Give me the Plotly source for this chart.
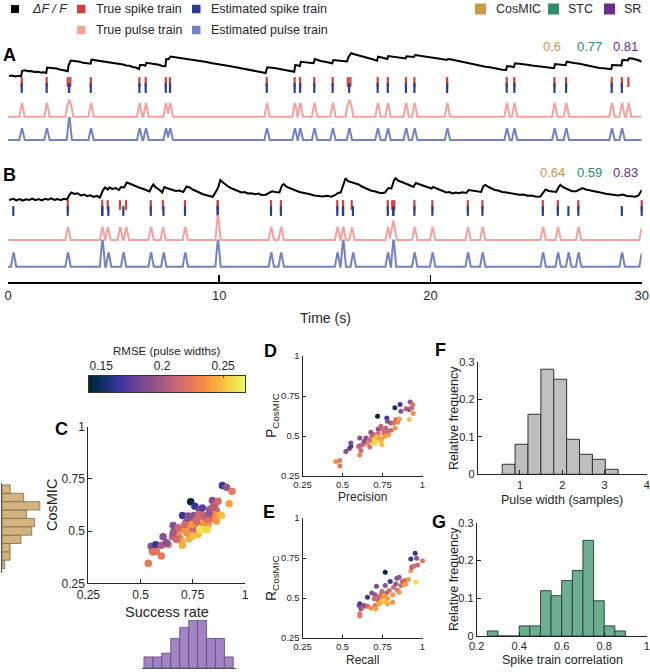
import numpy as np
import plotly.graph_objects as go
import plotly.express as px

# ---------------- DATA ----------------
# Panel A: dF/F trace (time s, value)
trace_A = [(0.05,0.16),(0.2,0.18),(0.35,0.14),(0.5,0.17),(0.62,0.15),
(0.67,0.37),(0.8,0.39),(0.95,0.35),(1.1,0.36),(1.25,0.32),(1.4,0.33),(1.55,0.3),(1.7,0.31),(1.81,0.28),
(1.85,0.5),(2.0,0.49),(2.15,0.46),(2.3,0.46),(2.45,0.42),(2.6,0.41),(2.75,0.37),(2.83,0.35),
(2.87,0.6),(2.97,0.78),(3.1,0.77),(3.25,0.74),(3.4,0.73),(3.55,0.69),(3.7,0.68),(3.85,0.64),(3.91,0.65),
(3.95,0.81),(4.1,0.79),(4.25,0.8),(4.4,0.76),(4.55,0.75),(4.7,0.72),(4.85,0.71),(5.0,0.68),(5.15,0.67),(5.3,0.63),(5.45,0.62),(5.6,0.58),(5.75,0.57),(5.9,0.52),(6.05,0.5),(6.2,0.44),
(6.25,0.6),(6.4,0.6),(6.5,0.57),
(6.55,0.69),(6.7,0.67),(6.85,0.66),(7.0,0.62),(7.15,0.61),(7.3,0.56),(7.45,0.55),
(7.49,0.84),(7.6,0.83),(7.69,0.94),
(7.85,0.92),(8.0,0.9),(8.2,0.89),(8.4,0.85),(8.6,0.84),(8.8,0.79),(9.0,0.77),(9.2,0.74),(9.4,0.72),(9.6,0.68),(9.8,0.66),(10.0,0.62),(10.2,0.6),(10.4,0.57),(10.6,0.54),(10.8,0.51),(11.0,0.49),(11.2,0.45),(11.4,0.43),(11.6,0.38),(11.8,0.36),(12.0,0.31),(12.2,0.28),
(12.27,0.51),(12.45,0.5),(12.6,0.48),(12.8,0.45),(13.0,0.42),(13.2,0.39),(13.4,0.35),(13.55,0.33),
(13.6,0.6),(13.7,0.58),(13.82,0.56),
(13.86,0.73),(14.0,0.72),(14.15,0.69),(14.3,0.7),(14.47,0.67),
(14.52,0.84),(14.65,0.8),(14.8,0.76),(14.95,0.74),(15.1,0.71),(15.25,0.69),(15.35,0.67),
(15.4,0.8),(15.55,0.78),(15.7,0.79),(15.85,0.76),(16.05,0.74),
(16.12,0.92),(16.25,1.07),(16.4,1.03),(16.55,1.0),(16.7,0.97),(16.85,0.93),(17.0,0.9),(17.15,0.86),(17.3,0.82),(17.47,0.77),
(17.52,0.93),(17.7,0.9),(17.85,0.86),(17.96,0.84),
(18.0,0.96),(18.2,0.94),(18.4,0.9),(18.6,0.88),(18.82,0.86),
(18.87,0.95),(19.05,0.94),(19.22,0.92),
(19.27,1.0),(19.45,0.98),(19.6,0.95),(19.8,0.93),(20.0,0.9),(20.2,0.88),(20.4,0.85),(20.6,0.83),(20.77,0.8),
(20.82,0.84),(21.0,0.82),(21.2,0.78),(21.4,0.75),(21.6,0.71),(21.8,0.68),(22.0,0.64),(22.2,0.6),(22.4,0.57),(22.6,0.53),(22.8,0.51),(23.0,0.47),(23.2,0.45),(23.4,0.41),(23.58,0.4),
(23.63,0.56),(23.8,0.54),(23.95,0.52),
(24.0,0.67),(24.2,0.66),(24.4,0.63),(24.6,0.61),(24.8,0.58),(25.0,0.56),(25.2,0.53),(25.4,0.51),(25.6,0.49),(25.85,0.47),
(25.9,0.64),(26.05,0.62),(26.2,0.61),(26.4,0.59),
(26.45,0.73),(26.6,0.72),(26.8,0.68),(27.0,0.66),(27.2,0.62),(27.4,0.58),(27.6,0.55),(27.8,0.52),(28.0,0.48),(28.2,0.47),(28.4,0.44),(28.56,0.43),
(28.6,0.6),(28.75,0.6),(28.9,0.57),(29.04,0.58),
(29.08,0.79),(29.2,0.8),(29.35,0.78),
(29.4,0.87),(29.55,0.86),(29.7,0.84),(29.85,0.79),(30.0,0.73)]

# Panel B: dF/F trace (time s, value)
trace_B = [(0.05,0.2),(0.25,0.25),(0.4,0.18),(0.55,0.24),(0.7,0.17),(0.85,0.23),(1.0,0.2),(1.15,0.26),(1.3,0.19),(1.45,0.24),(1.6,0.18),(1.75,0.25),(1.9,0.21),(2.05,0.27),(2.2,0.2),(2.35,0.24),(2.5,0.19),(2.65,0.25),(2.8,0.22),
(2.9,0.4),(3.0,0.5),(3.15,0.44),(3.3,0.47),(3.45,0.38),(3.6,0.42),(3.75,0.35),(3.9,0.39),(4.05,0.32),(4.2,0.37),(4.35,0.3),
(4.5,0.6),(4.6,0.7),(4.72,0.62),(4.8,0.7),(4.95,0.64),(5.1,0.68),(5.25,0.6),
(5.35,0.72),(5.5,0.7),(5.62,0.9),(5.75,0.86),(5.9,0.8),(6.05,0.75),(6.2,0.7),(6.35,0.66),(6.5,0.6),(6.7,0.54),
(6.8,0.72),(6.88,0.82),(7.0,0.7),(7.15,0.62),(7.3,0.5),
(7.4,0.72),(7.5,0.68),(7.65,0.63),(7.8,0.6),(7.95,0.56),(8.1,0.58),(8.3,0.52),
(8.45,0.74),(8.6,0.7),(8.75,0.62),(8.9,0.55),(9.05,0.5),(9.2,0.44),(9.35,0.4),(9.5,0.36),(9.7,0.33),
(9.95,0.7),(10.05,1.0),(10.15,0.92),(10.3,0.82),(10.45,0.72),(10.6,0.66),(10.75,0.6),(10.9,0.56),(11.05,0.5),(11.2,0.52),(11.35,0.46),(11.5,0.47),(11.7,0.43),(11.85,0.46),(12.0,0.4),(12.2,0.41),
(12.5,0.55),(12.65,0.52),(12.85,0.5),
(12.97,0.78),(13.05,0.84),(13.2,0.72),(13.35,0.66),(13.5,0.6),(13.65,0.57),(13.8,0.52),(13.95,0.5),(14.1,0.45),(14.3,0.43),(14.5,0.38),(14.7,0.35),(14.9,0.34),(15.1,0.37),(15.3,0.33),(15.5,0.4),
(15.62,0.48),(15.75,0.5),
(15.9,0.9),(15.98,1.07),(16.1,0.95),(16.2,0.92),
(16.32,0.9),(16.45,0.85),(16.6,0.82),(16.75,0.74),(16.9,0.68),(17.05,0.62),(17.2,0.57),(17.35,0.55),(17.5,0.5),(17.65,0.47),(17.85,0.5),
(18.0,0.68),(18.15,0.66),
(18.28,1.0),(18.35,1.07),(18.5,0.96),(18.65,0.92),(18.8,0.86),(18.95,0.8),(19.1,0.76),(19.2,0.72),
(19.3,0.88),(19.45,0.84),(19.6,0.78),(19.75,0.74),(19.9,0.7),(20.05,0.66),
(20.12,0.72),(20.3,0.66),(20.45,0.6),(20.6,0.56),(20.75,0.5),(20.9,0.52),(21.05,0.46),(21.2,0.5),(21.35,0.47),(21.5,0.51),(21.7,0.48),
(21.8,0.6),(22.0,0.58),(22.2,0.55),(22.4,0.52),
(22.5,0.75),(22.6,0.8),(22.75,0.72),(22.9,0.66),(23.05,0.6),(23.2,0.58),(23.4,0.52),(23.6,0.5),(23.8,0.46),(24.0,0.44),(24.2,0.41),(24.4,0.42),(24.6,0.37),(24.8,0.38),(25.0,0.33),(25.2,0.34),
(25.36,0.55),(25.45,0.62),(25.6,0.56),(25.75,0.55),(25.95,0.52),
(26.07,0.72),(26.15,0.8),(26.3,0.7),(26.5,0.62),(26.7,0.55),(26.9,0.55),
(27.03,0.62),(27.2,0.68),(27.35,0.62),(27.5,0.6),(27.7,0.56),(27.9,0.53),(28.1,0.49),(28.3,0.45),(28.5,0.43),(28.7,0.4),(28.9,0.38),(29.1,0.42),(29.3,0.36),(29.5,0.35),(29.7,0.33),(29.85,0.38),
(29.95,0.5),(30.0,0.6)]

spikes_true_A = [0.65,1.83,2.83,2.95,3.92,6.22,6.52,7.47,7.67,12.25,13.57,13.83,14.5,15.37,16.09,16.21,
                 17.5,17.98,18.84,19.24,20.79,23.61,23.97,25.87,26.42,28.58,29.06,29.37]
spikes_est_A = [0.65,1.83,2.89,2.89,3.92,6.22,6.52,7.47,7.67,12.25,13.57,13.83,14.5,15.37,16.15,
                17.5,17.98,18.84,19.24,20.79,23.61,23.97,25.87,26.42,28.58,29.06]
spikes_true_B = [2.83,4.46,4.72,5.3,5.59,6.76,7.33,8.38,9.93,9.93,12.45,12.92,15.59,15.86,16.27,
                 17.98,18.19,18.29,19.24,20.09,21.77,22.46,25.32,26.03,27.0,30.0]
spikes_est_B = [0.25,2.83,4.46,4.46,4.75,5.46,6.76,7.36,8.38,9.93,9.93,12.45,12.92,15.59,15.86,15.86,
                16.33,17.98,18.24,18.24,19.24,20.09,21.77,22.46,25.32,26.03,26.53,27.0,29.06,30.0]

scores_A = [0.6, 0.77, 0.81]   # CosMIC, STC, SR
scores_B = [0.64, 0.59, 0.83]

# Panel C: success rate, CosMIC, RMSE
C_sr = [0.537,0.557,0.551,0.573,0.560,0.600,0.608,0.600,0.632,0.656,0.664,0.653,0.680,0.688,0.696,0.701,0.701,0.720,
        0.728,0.736,0.720,0.744,0.740,0.760,0.760,0.756,0.767,0.775,0.783,0.788,0.796,0.803,0.807,0.807,0.815,0.823,
        0.831,0.839,0.844,0.855,0.863,0.871,0.871,0.887,0.892,0.911,0.924,0.938,0.720,0.701,0.712,0.780,0.791,0.775,
        0.847,0.818,0.752,0.732,0.752,0.783,0.624,0.680,0.656,0.847,0.728,0.799,0.672,0.744,0.863,0.820,0.767,0.576,0.828]
C_cosmic = [0.346,0.404,0.428,0.435,0.400,0.381,0.473,0.432,0.436,0.527,0.505,0.473,0.484,0.463,0.452,0.432,0.575,0.543,
            0.516,0.468,0.492,0.559,0.640,0.619,0.543,0.575,0.508,0.484,0.596,0.564,0.611,0.521,0.548,0.508,0.575,0.532,
            0.603,0.559,0.646,0.623,0.599,0.643,0.575,0.575,0.718,0.710,0.631,0.691,0.516,0.508,0.532,0.580,0.543,0.527,
            0.580,0.556,0.508,0.463,0.476,0.511,0.444,0.516,0.492,0.615,0.572,0.572,0.460,0.532,0.548,0.508,0.551,0.404,0.583]
C_rmse = [0.225,0.225,0.19,0.165,0.222,0.225,0.19,0.2,0.22,0.19,0.19,0.21,0.235,0.22,0.24,0.245,0.165,0.19,
          0.21,0.262,0.235,0.19,0.142,0.165,0.22,0.19,0.235,0.25,0.19,0.195,0.175,0.215,0.215,0.26,0.21,0.235,
          0.2,0.22,0.19,0.21,0.215,0.215,0.24,0.25,0.165,0.195,0.24,0.225,0.238,0.235,0.215,0.215,0.24,0.22,
          0.235,0.222,0.215,0.245,0.25,0.262,0.19,0.215,0.2,0.205,0.19,0.21,0.215,0.238,0.238,0.258,0.215,0.222,0.195]

# Marginal histograms of panel C
cosmic_hist_centers = [0.34,0.38,0.42,0.46,0.50,0.54,0.58,0.62,0.66,0.70]
cosmic_hist_counts = [1,3,3,7,11,12,9,14,8,3]
sr_hist_centers = [0.537,0.580,0.622,0.665,0.708,0.751,0.793,0.836,0.879,0.921]
sr_hist_counts = [3,3,4,8,11,13,13,8,8,3]

# Panel D: precision vs P_CosMIC
D_prec = [0.458,0.483,0.483,0.521,0.542,0.552,0.552,0.600,0.608,0.608,0.608,0.625,0.646,0.656,0.677,0.683,0.688,0.698,
          0.704,0.708,0.698,0.719,0.723,0.723,0.729,0.746,0.750,0.760,0.771,0.777,0.781,0.788,0.802,0.802,0.817,0.827,
          0.829,0.833,0.844,0.854,0.860,0.865,0.896,0.917,0.917,0.923,0.933,0.938,0.942,0.767,0.740,0.667,0.635,0.615,
          0.704,0.712,0.671,0.746,0.781,0.740]
D_pcos = [0.340,0.347,0.313,0.403,0.420,0.435,0.456,0.435,0.439,0.382,0.487,0.445,0.487,0.452,0.523,0.498,0.466,0.483,
          0.452,0.477,0.508,0.624,0.544,0.515,0.487,0.481,0.540,0.515,0.550,0.613,0.592,0.508,0.582,0.536,0.582,0.676,
          0.550,0.603,0.586,0.607,0.697,0.655,0.670,0.666,0.603,0.712,0.676,0.697,0.641,0.498,0.466,0.477,0.466,0.410,
          0.466,0.498,0.431,0.445,0.529,0.561]
D_rmse = [0.235,0.225,0.225,0.19,0.19,0.17,0.185,0.215,0.205,0.23,0.19,0.215,0.19,0.235,0.19,0.215,0.24,0.25,
          0.262,0.258,0.205,0.142,0.19,0.215,0.238,0.24,0.215,0.215,0.21,0.165,0.19,0.238,0.195,0.215,0.215,0.155,
          0.235,0.22,0.23,0.238,0.165,0.19,0.21,0.195,0.25,0.195,0.215,0.222,0.235,0.24,0.25,0.215,0.19,0.215,
          0.258,0.245,0.22,0.25,0.215,0.21]

# Panel E: recall vs R_CosMIC
E_rec = [0.608,0.608,0.604,0.608,0.615,0.629,0.635,0.656,0.656,0.677,0.683,0.704,0.704,0.708,0.712,0.723,0.729,0.740,
         0.746,0.750,0.756,0.767,0.767,0.775,0.781,0.792,0.798,0.813,0.819,0.833,0.840,0.844,0.854,0.854,0.865,0.875,
         0.885,0.892,0.896,0.912,0.927,0.927,0.933,0.944,0.954,0.958,0.963,0.969,1.0,0.760,0.740,0.781,0.813,0.698,
         0.729,0.771]
E_rcos = [0.387,0.401,0.453,0.464,0.433,0.443,0.453,0.505,0.449,0.437,0.532,0.520,0.453,0.433,0.574,0.484,0.505,0.520,
          0.540,0.495,0.480,0.661,0.578,0.532,0.499,0.547,0.603,0.520,0.567,0.588,0.623,0.547,0.630,0.536,0.578,0.603,
          0.584,0.609,0.588,0.615,0.671,0.744,0.692,0.698,0.779,0.599,0.748,0.706,0.733,0.516,0.474,0.464,0.474,0.495,
          0.464,0.474]
E_rmse = [0.225,0.225,0.19,0.17,0.19,0.215,0.19,0.165,0.215,0.235,0.19,0.195,0.22,0.24,0.185,0.215,0.21,0.222,
          0.215,0.238,0.262,0.142,0.19,0.205,0.24,0.215,0.165,0.238,0.215,0.195,0.19,0.215,0.195,0.238,0.215,0.21,
          0.235,0.215,0.24,0.238,0.238,0.165,0.205,0.215,0.165,0.258,0.195,0.215,0.225,0.238,0.25,0.24,0.235,0.215,
          0.245,0.25]

# Panel F: pulse width histogram
pw_edges = [0.58,0.885,1.19,1.495,1.8,2.105,2.41,2.715,3.02,3.325]
pw_freq = [0.0267,0.08,0.16,0.28,0.2533,0.0933,0.0533,0.04,0.0133]
# Panel G: spike train correlation histogram
stc_edges = [0.25,0.3,0.35,0.4,0.45,0.5,0.55,0.6,0.65,0.7,0.75,0.8,0.85,0.9]
stc_freq = [0.0133,0,0,0.0267,0.0267,0.12,0.1067,0.1467,0.1733,0.2533,0.0933,0.0267,0.0133]

# Colour bar
rmse_min, rmse_max = 0.14, 0.268
cbar_ticks = [0.15, 0.2, 0.25]
cbar_ticktext = ["0.15", "0.2", "0.25"]

# ---------------- STYLE ----------------
W, H = 650, 672
FONT = "Liberation Sans, Arial, Helvetica, sans-serif"
INK = "#262626"
C_BLACK = "#000000"
C_RED = "#d2403a"
C_DBLUE = "#283f8f"
C_PINK = "#f6a19c"
C_LBLUE = "#7282c2"
C_TAN = "#c99a48"
C_GREEN = "#2e8c6c"
C_PURPLE = "#6b2e8f"
THERMAL = px.colors.sequential.thermal

def X(p): return p / W
def Y(p): return 1 - p / H
def domx(a, b): return [a / W, b / W]
def domy(top, bottom): return [1 - bottom / H, 1 - top / H]

# pulse kernel (shape of one pulse, seconds)
K_T = [-0.11, -0.03, 0.03, 0.11]
K_Y = [0, 1, 1, 0]
grid = np.linspace(0, 30, 3001)

def pulse_train(spikes):
    y = np.zeros_like(grid)
    for s in spikes:
        y += np.interp(grid - s, K_T, K_Y, left=0, right=0)
    return y

fig = go.Figure()

def line_trace(pairs, yax):
    t = [p[0] for p in pairs]; v = [p[1] for p in pairs]
    fig.add_trace(go.Scatter(x=t, y=v, mode="lines", line=dict(color=C_BLACK, width=2),
                             xaxis="x", yaxis=yax, showlegend=False, hoverinfo="skip"))

def tick_trace(times, level, color, yax):
    fig.add_trace(go.Scatter(x=times, y=[level] * len(times), mode="markers",
                             marker=dict(symbol="line-ns", size=7, line=dict(width=2.2, color=color)),
                             xaxis="x", yaxis=yax, showlegend=False, cliponaxis=False, hoverinfo="skip"))

def pulse_line(spikes, color, yax):
    fig.add_trace(go.Scatter(x=grid, y=pulse_train(spikes), mode="lines", line=dict(color=color, width=2),
                             xaxis="x", yaxis=yax, showlegend=False, hoverinfo="skip"))

line_trace(trace_A, "y")
tick_trace(spikes_true_A, 1, C_RED, "y2")
tick_trace(spikes_est_A, 0, C_DBLUE, "y2")
pulse_line(spikes_true_A, C_PINK, "y3")
pulse_line(spikes_est_A, C_LBLUE, "y4")
line_trace(trace_B, "y5")
tick_trace(spikes_true_B, 1, C_RED, "y6")
tick_trace(spikes_est_B, 0, C_DBLUE, "y6")
pulse_line(spikes_true_B, C_PINK, "y7")
pulse_line(spikes_est_B, C_LBLUE, "y8")

# Scatter panels
def scat(x, y, c, xa, ya, size):
    fig.add_trace(go.Scatter(x=x, y=y, mode="markers",
                             marker=dict(color=c, coloraxis="coloraxis", size=size, line=dict(width=0)),
                             xaxis=xa, yaxis=ya, showlegend=False, cliponaxis=False))

scat(C_sr, C_cosmic, C_rmse, "x2", "y9", 7.5)
scat(D_prec, D_pcos, D_rmse, "x5", "y12", 5)
scat(E_rec, E_rcos, E_rmse, "x6", "y13", 5)

# colour bar drawn as a heatmap strip
cb_vals = list(np.linspace(rmse_min, rmse_max, 128))
fig.add_trace(go.Heatmap(x=cb_vals, y=[0], z=[cb_vals], coloraxis="coloraxis",
                         xaxis="x9", yaxis="y16", hoverinfo="skip"))

# marginal histograms
fig.add_trace(go.Bar(y=cosmic_hist_centers, x=cosmic_hist_counts, orientation="h", width=0.04,
                     marker=dict(color="#d3b380", line=dict(color="#7d6a45", width=0.8)),
                     xaxis="x3", yaxis="y10", showlegend=False))
fig.add_trace(go.Bar(x=sr_hist_centers, y=sr_hist_counts, width=0.0427,
                     marker=dict(color="#a284c4", line=dict(color="#5e467d", width=0.8)),
                     xaxis="x4", yaxis="y11", showlegend=False))

# F and G histograms
def hist_bar(edges, freq, color, edge, xa, ya):
    centers = [(edges[i] + edges[i + 1]) / 2 for i in range(len(freq))]
    widths = [edges[i + 1] - edges[i] for i in range(len(freq))]
    fig.add_trace(go.Bar(x=centers, y=freq, width=widths,
                         marker=dict(color=color, line=dict(color=edge, width=1)),
                         xaxis=xa, yaxis=ya, showlegend=False))

hist_bar(pw_edges, pw_freq, "#c0c0c0", "#333333", "x7", "y14")
hist_bar(stc_edges, stc_freq, "#6cae8f", "#2a4a3c", "x8", "y15")

# ---------------- LAYOUT ----------------
hid = dict(visible=False, showgrid=False, zeroline=False, fixedrange=True)

def axstyle(size=11, **kw):
    d = dict(showline=True, linecolor=INK, linewidth=1, ticks="inside", ticklen=4, tickcolor=INK,
             tickwidth=1, showgrid=False, zeroline=False, mirror=False,
             tickfont=dict(size=size, color=INK, family=FONT))
    d.update(kw)
    return d

q = [0.25, 0.5, 0.75, 1]
qt = ["0.25", "0.5", "0.75", "1"]

layout = dict(
    width=W, height=H, margin=dict(l=0, r=0, t=0, b=0, pad=0, autoexpand=False),
    paper_bgcolor="white", plot_bgcolor="rgba(0,0,0,0)",
    font=dict(family=FONT, color=INK), bargap=0,
    xaxis=dict(domain=domx(8, 641.7), range=[0, 30], anchor="free", position=Y(283),
               showline=True, linewidth=2, linecolor="black", ticks="inside", ticklen=7,
               tickwidth=1.5, tickcolor="black", tickvals=[0, 10, 20, 30], showgrid=False,
               zeroline=False, tickfont=dict(size=13, color=INK)),
    yaxis=dict(domain=domy(30, 80), range=[0, 2], anchor="x", **hid),
    yaxis2=dict(domain=domy(76, 94), range=[-1, 2], anchor="x", **hid),
    yaxis3=dict(domain=domy(90, 120), range=[-0.25, 2.05], anchor="x", **hid),
    yaxis4=dict(domain=domy(115.8, 142.75), range=[-0.25, 2.2], anchor="x", **hid),
    yaxis5=dict(domain=domy(155, 205), range=[0, 2], anchor="x", **hid),
    yaxis6=dict(domain=domy(199, 217), range=[-1, 2], anchor="x", **hid),
    yaxis7=dict(domain=domy(214.8, 243.1), range=[-0.25, 2.05], anchor="x", **hid),
    yaxis8=dict(domain=domy(239.4, 270), range=[-0.25, 2.05], anchor="x", **hid),
    # C
    xaxis2=axstyle(12, domain=domx(88.3, 245), range=[0.25, 1], anchor="y9", tickvals=q, ticktext=qt),
    yaxis9=axstyle(12, domain=domy(426.7, 583.3), range=[0.25, 1], anchor="x2", tickvals=q, ticktext=qt),
    # marginal hists
    xaxis3=dict(domain=domx(2, 48), range=[0, 17], anchor="y10", **hid),
    yaxis10=dict(domain=domy(482.8, 572.8), range=[0.30, 0.73], anchor="x3", showline=True,
                 linecolor="#555", linewidth=1, ticks="", showticklabels=False, showgrid=False,
                 zeroline=False),
    xaxis4=dict(domain=domx(141.7, 235.9), range=[0.505, 0.955], anchor="y11", showline=True,
                linecolor="#555", linewidth=1, ticks="", showticklabels=False, showgrid=False,
                zeroline=False),
    yaxis11=dict(domain=domy(620, 668), range=[0, 13], anchor="x4", **hid),
    # D, E
    xaxis5=axstyle(9.5, domain=domx(302.5, 422.5), range=[0.25, 1], anchor="y12", tickvals=q, ticktext=qt, ticklen=3),
    yaxis12=axstyle(9.5, domain=domy(356, 476), range=[0.25, 1], anchor="x5", tickvals=q, ticktext=qt, ticklen=3),
    xaxis6=axstyle(9.5, domain=domx(302.5, 422.5), range=[0.25, 1], anchor="y13", tickvals=q, ticktext=qt, ticklen=3),
    yaxis13=axstyle(9.5, domain=domy(518, 638), range=[0.25, 1], anchor="x6", tickvals=q, ticktext=qt, ticklen=3),
    # F, G
    xaxis7=axstyle(11, domain=domx(477.7, 646.7), range=[0, 4], anchor="y14", tickvals=[1, 2, 3, 4]),
    yaxis14=axstyle(11, domain=domy(361.7, 474.3), range=[0, 0.3], anchor="x7",
                    tickvals=[0, 0.1, 0.2, 0.3], ticktext=["0", "0.1", "0.2", "0.3"]),
    xaxis8=axstyle(11, domain=domx(476.7, 646.7), range=[0.2, 1], anchor="y15",
                   tickvals=[0.2, 0.4, 0.6, 0.8, 1], ticktext=["0.2", "0.4", "0.6", "0.8", "1"]),
    yaxis15=axstyle(11, domain=domy(522.7, 636), range=[0, 0.3], anchor="x8",
                    tickvals=[0, 0.1, 0.2, 0.3], ticktext=["0", "0.1", "0.2", "0.3"]),
    # colour bar axes
    xaxis9=dict(domain=domx(89, 245), range=[rmse_min, rmse_max], anchor="y16", side="top",
                showline=True, mirror=True, linecolor="#333", linewidth=1, ticks="inside", ticklen=2,
                tickcolor="#555", tickvals=cbar_ticks, ticktext=cbar_ticktext, showgrid=False,
                zeroline=False, tickfont=dict(size=12, color=INK)),
    yaxis16=dict(domain=domy(376, 392), range=[-0.5, 0.5], anchor="x9", showline=True, mirror=True,
                 linecolor="#333", linewidth=1, ticks="", showticklabels=False, showgrid=False,
                 zeroline=False),
    coloraxis=dict(colorscale=THERMAL, cmin=rmse_min, cmax=rmse_max, showscale=False),
)
fig.update_layout(**layout)

anns = []
def ann(text, x, y, size, bold=False, color=INK, angle=0, xanchor="center"):
    anns.append(dict(text=("<b>%s</b>" % text) if bold else text, x=X(x), y=Y(y), xref="paper",
                     yref="paper", showarrow=False, xanchor=xanchor, yanchor="middle", textangle=angle,
                     font=dict(size=size, color=color, family=FONT)))

# panel letters
for L, x, y in [("A", 9.5, 55), ("B", 9.5, 175), ("C", 61.5, 429), ("D", 270, 351), ("E", 269, 512),
                ("F", 440, 350), ("G", 439.5, 522)]:
    ann(L, x, y, 18, bold=True, color="black")

# scores
score_cols = [C_TAN, C_GREEN, C_PURPLE]
for vals, yy in [(scores_A, 47), (scores_B, 172.7)]:
    for v, xx, col in zip(vals, [552, 589.5, 625.5], score_cols):
        ann(f"{v:g}", xx, yy, 13, color=col)

# axis titles
ann("Time (s)", 325, 318, 14)
ann("CosMIC", 52, 505, 14.5, angle=-90)
ann("Success rate", 167, 612, 14.5)
ann("P<sub>CosMIC</sub>", 272, 416, 14, angle=-90)
ann("Precision", 362, 497, 12)
ann("R<sub>CosMIC</sub>", 272, 578, 14, angle=-90)
ann("Recall", 362, 660, 12)
ann("Relative frequency", 454, 418, 12.5, angle=-90)
ann("Pulse width (samples)", 562, 500, 12.5)
ann("Relative frequency", 454, 579, 12.5, angle=-90)
ann("Spike train correlation", 562, 660, 12.5)
ann("RMSE (pulse widths)", 167, 351, 11.5)

# legend
shapes = []
def sq(x0, x1, yc, col):
    h = (x1 - x0) / 2
    shapes.append(dict(type="rect", xref="paper", yref="paper", x0=X(x0), x1=X(x1), y0=Y(yc + h),
                       y1=Y(yc - h), fillcolor=col, line=dict(width=0)))

sq(11, 19, 9, C_BLACK); ann("<i>ΔF / F</i>", 30, 9, 12.5, xanchor="left")
sq(77, 85.5, 9, C_RED); ann("True spike train", 94, 9, 12.5, xanchor="left")
sq(192, 200.5, 9, C_DBLUE); ann("Estimated spike train", 209, 9, 12.5, xanchor="left")
sq(77, 85.5, 30, C_PINK); ann("True pulse train", 94, 30, 12.5, xanchor="left")
sq(192, 200.5, 30, C_LBLUE); ann("Estimated pulse train", 209, 30, 12.5, xanchor="left")
sq(475, 486, 9, C_TAN); ann("CosMIC", 494, 9, 12.5, xanchor="left")
sq(548, 559, 9, C_GREEN); ann("STC", 566, 9, 12.5, xanchor="left")
sq(604, 615, 9, C_PURPLE); ann("SR", 622, 9, 12.5, xanchor="left")

fig.update_layout(annotations=anns, shapes=shapes)
fig.write_html("out.html", config={"displayModeBar": False, "staticPlot": True},
               post_script="document.body.style.margin='0';")
